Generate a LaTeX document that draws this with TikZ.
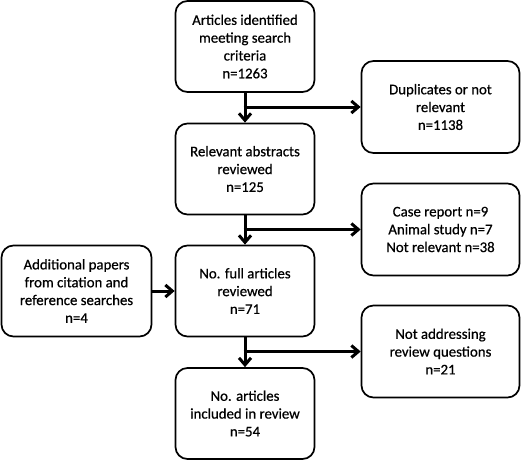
\documentclass[tikz,border=0pt]{standalone}
\usepackage{fontspec}
\setmainfont{Carlito}[FakeBold=0.6]
\usetikzlibrary{arrows.meta}
\begin{document}
\begin{tikzpicture}[x=1pt,y=-1pt,
  box/.style={draw, line width=1.7pt, rounded corners=12pt, align=center,
    inner sep=0pt, font=\fontsize{14.8}{17.8}\selectfont},
  mid/.style={box, minimum width=139pt, minimum height=91pt},
  side/.style={box, minimum width=158pt, minimum height=92pt},
  arr/.style={line width=3pt, -{Straight Barb[length=7pt,width=12pt,line width=3pt]}}]
\useasboundingbox (0,0) rectangle (521,461);
\node[mid] (a) at (245,46.5) {Articles identified\\meeting search\\criteria\\n=1263};
\node[mid] (b) at (245,169) {Relevant abstracts\\reviewed\\n=125};
\node[mid] (c) at (245,291) {No. full articles\\reviewed\\n=71};
\node[mid] (d) at (245,413.5) {No. articles\\included in review\\n=54};
\node[side] (r1) at (440.5,107) {Duplicates or not\\relevant\\n=1138};
\node[side] (r2) at (440.5,229.5) {Case report n=9\\Animal study n=7\\Not relevant n=38};
\node[side] (r3) at (440.5,351.5) {Not addressing\\review questions\\n=21};
\node[box, minimum width=150pt, minimum height=91pt] (l) at (76.5,291) {Additional papers\\from citation and\\reference searches\\n=4};
\draw[arr] (a) -- (b);
\draw[arr] (b) -- (c);
\draw[arr] (c) -- (d);
\coordinate (j1) at (a.south |- r1.west);
\coordinate (j2) at (b.south |- r2.west);
\coordinate (j3) at (c.south |- r3.west);
\draw[arr] ([xshift=-1.5pt]j1) -- (r1.west);
\draw[arr] ([xshift=-1.5pt]j2) -- (r2.west);
\draw[arr] ([xshift=-1.5pt]j3) -- (r3.west);
\draw[arr] (l) -- (c);
\end{tikzpicture}
\end{document}
